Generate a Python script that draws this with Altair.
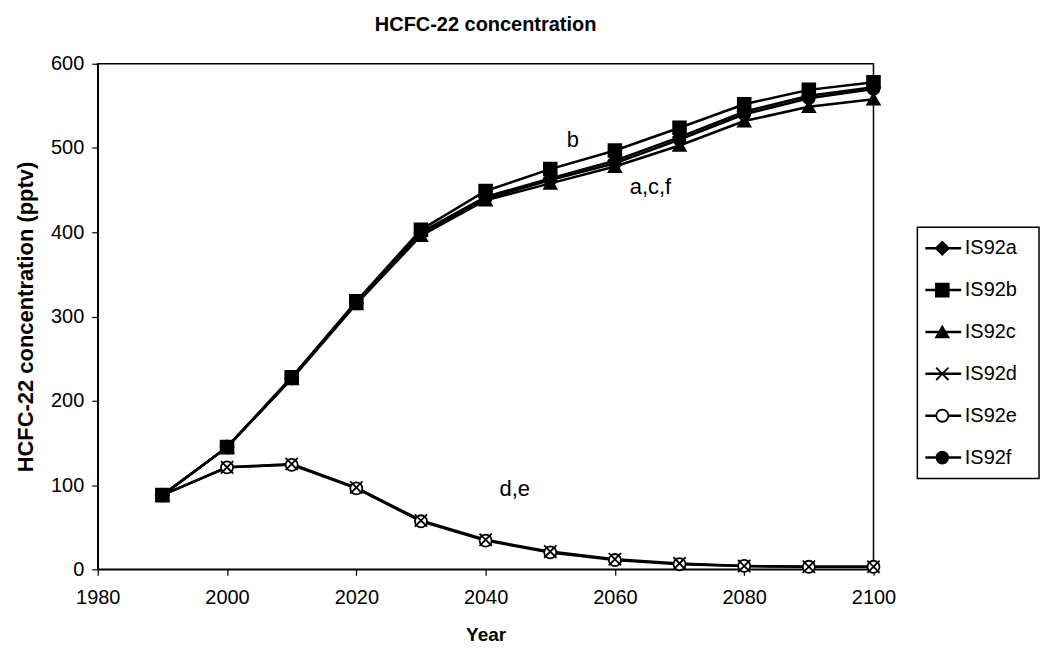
import altair as alt
import pandas as pd

years = [1990, 2000, 2010, 2020, 2030, 2040, 2050, 2060, 2070, 2080, 2090, 2100]
series_names = ["IS92a", "IS92b", "IS92c", "IS92d", "IS92e", "IS92f"]
is92a = [88, 145, 227, 316, 400, 442, 464, 485, 513, 543, 562, 572]
is92b = [88, 145, 228, 318, 403, 449, 475, 497, 524, 552, 569, 578]
is92c = [88, 145, 226, 315, 396, 438, 458, 478, 503, 532, 549, 558]
is92d = [88, 121, 125, 97, 58, 35, 21, 12, 7, 4, 3, 3]
is92e = [88, 121, 124, 96, 57, 34, 20, 11, 6, 4, 3, 3]
is92f = [88, 145, 227, 316, 399, 440, 462, 482, 510, 540, 559, 570]

x_ticks = [1980, 2000, 2020, 2040, 2060, 2080, 2100]
y_ticks = [0, 100, 200, 300, 400, 500, 600]

ann_labels = ["b", "a,c,f", "d,e"]
ann_years = [2053.5, 2065.5, 2044.5]
ann_values = [509, 454, 95]

data_by_series = dict(zip(series_names, [is92a, is92b, is92c, is92d, is92e, is92f]))
draw_order = ["IS92e", "IS92d", "IS92a", "IS92c", "IS92f", "IS92b"]
rows = []
for name in draw_order:
    for yr, v in zip(years, data_by_series[name]):
        rows.append({"series": name, "year": yr, "value": v})
df = pd.DataFrame(rows)
ann_df = pd.DataFrame({"label": ann_labels, "year": ann_years, "value": ann_values})
leg_df = pd.DataFrame({"series": series_names, "idx": list(range(len(series_names)))})

FONT = "Liberation Sans"
shape_scale = alt.Scale(domain=series_names,
                        range=["diamond", "square", "triangle-up",
                               "M-1,-1L1,1M-1,1L1,-1", "circle", "circle"])
fill_scale = alt.Scale(domain=series_names,
                       range=["black", "black", "black", "black", "white", "black"])
size_scale = alt.Scale(domain=series_names, range=[170, 140, 170, 130, 60, 140])

xsc = alt.Scale(domain=[1980, 2100])
ysc = alt.Scale(domain=[0, 600])

x_enc = alt.X("year:Q", scale=xsc,
              axis=alt.Axis(title="Year", values=x_ticks, format="d",
                            tickSize=6, labelPadding=12, titlePadding=18, labelFlush=False))
y_enc = alt.Y("value:Q", scale=ysc,
              axis=alt.Axis(title="HCFC-22 concentration (pptv)", values=y_ticks,
                            tickSize=6, labelPadding=8, titlePadding=13, titleFontSize=22))

lines = alt.Chart(df).mark_line(color="black", strokeWidth=2.5).encode(
    x=x_enc, y=y_enc, detail="series:N", order="year:Q")
points = alt.Chart(df).mark_point(stroke="black", strokeWidth=1.8, opacity=1, fillOpacity=1).encode(
    x="year:Q", y="value:Q",
    shape=alt.Shape("series:N", scale=shape_scale, legend=None),
    fill=alt.Fill("series:N", scale=fill_scale, legend=None),
    size=alt.Size("series:N", scale=size_scale, legend=None))
texts = alt.Chart(ann_df).mark_text(font=FONT, fontSize=22, color="black").encode(
    x="year:Q", y="value:Q", text="label:N")

main = alt.layer(lines, points, texts).properties(
    width=778, height=507,
    title=alt.TitleParams("HCFC-22 concentration", font=FONT, fontSize=20, fontWeight="bold",
                          offset=19, anchor="middle"),
    view=alt.ViewBackground(stroke="black", strokeWidth=1.5))

lx = alt.Scale(domain=[0, 1])
ly = alt.Scale(domain=[-4.405, 7.667], reverse=True)
box = alt.Chart(pd.DataFrame({"k": [0]})).mark_rect(fill="white", stroke="black", strokeWidth=1.5).encode(
    x=alt.datum(0, scale=lx, axis=None), x2=alt.datum(1),
    y=alt.datum(-0.5, scale=ly, axis=None), y2=alt.datum(5.5))
leg_lines = alt.Chart(leg_df).mark_rule(color="black", strokeWidth=2.5).encode(
    x=alt.datum(0.066, scale=lx, axis=None), x2=alt.datum(0.36),
    y=alt.Y("idx:Q", scale=ly, axis=None))
leg_pts = alt.Chart(leg_df).mark_point(stroke="black", strokeWidth=1.8, opacity=1, fillOpacity=1).encode(
    x=alt.datum(0.205, scale=lx, axis=None),
    y=alt.Y("idx:Q", scale=ly, axis=None),
    shape=alt.Shape("series:N", scale=shape_scale, legend=None),
    fill=alt.Fill("series:N", scale=fill_scale, legend=None),
    size=alt.Size("series:N", scale=size_scale, legend=None))
leg_text = alt.Chart(leg_df).mark_text(font=FONT, fontSize=20, color="black", align="left",
                                      baseline="middle").encode(
    x=alt.datum(0.39, scale=lx, axis=None),
    y=alt.Y("idx:Q", scale=ly, axis=None),
    text="series:N")
legend = alt.layer(box, leg_lines, leg_pts, leg_text).properties(
    width=122, height=507, view=alt.ViewBackground(strokeOpacity=0))

chart = alt.hconcat(main, legend, spacing=20).properties(
    padding={"left": 5, "top": 5, "right": 5, "bottom": 0}
).configure_axis(
    labelFont=FONT, labelFontSize=20, labelColor="black",
    titleFont=FONT, titleFontSize=19, titleFontWeight="bold", titleColor="black",
    domainColor="black", domainWidth=1.5, tickColor="black", tickWidth=1.2, grid=False
).configure_view(stroke=None)

chart.save("out.html", embed_options={"renderer": "svg", "actions": False})
